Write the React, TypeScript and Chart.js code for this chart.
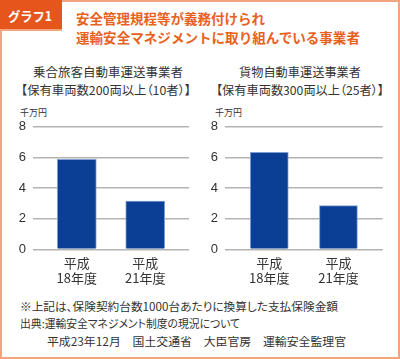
import React, { useEffect, useLayoutEffect, useRef } from "react";
import { Chart, registerables } from "chart.js";

Chart.register(...registerables);

// ---- data ----
const categories: string[][] = [["平成", "18年度"], ["平成", "21年度"]];
const passengerValues = [5.87, 3.15];
const freightValues = [6.33, 2.85];
const yTickValues = [0, 2, 4, 6, 8];

const headerLabel = "グラフ1";
const headerTitle = ["安全管理規程等が義務付けられ", "運輸安全マネジメントに取り組んでいる事業者"];
const passengerTitle = ["乗合旅客自動車運送事業者", "【保有車両数200両以上（10者）】"];
const freightTitle = ["貨物自動車運送事業者", "【保有車両数300両以上（25者）】"];
const unitLabel = "千万円";
const footnotes = [
  "※上記は、保険契約台数1000台あたりに換算した支払保険金額",
  "出典:運輸安全マネジメント制度の現況について",
  "平成23年12月　国土交通省　大臣官房　運輸安全監理官",
];

const ORANGE = "#e8611f";
const FRAME = "#f4a47c";
const BAR = "#0b3f95";
const TEXT = "#333333";
const CJK = '"Noto Sans CJK JP", "Noto Sans", sans-serif';
const NUM = '"Liberation Sans", Arial, sans-serif';

type PanelProps = {
  values: number[];
  left: number;
  top: number;
  width: number;
  height: number;
  yWidth: number;
  padTop: number;
  padRight: number;
  xHeight: number;
  tickPad: number;
  barThickness: number;
};

function Panel(p: PanelProps) {
  const ref = useRef<HTMLCanvasElement | null>(null);
  useEffect(() => {
    if (!ref.current) return;
    const chart = new Chart(ref.current, {
      type: "bar",
      data: {
        datasets: [
          {
            data: p.values.map((v, i) => ({ x: i, y: v })),
            backgroundColor: BAR,
            borderColor: "#7f9fd4",
            borderWidth: 1,
            barThickness: p.barThickness,
          },
        ],
      },
      options: {
        responsive: false,
        animation: false,
        devicePixelRatio: 1,
        layout: { padding: { top: p.padTop, right: p.padRight, left: 0, bottom: 0 } },
        plugins: { legend: { display: false }, tooltip: { enabled: false }, title: { display: false } },
        scales: {
          x: {
            type: "linear",
            min: -0.64,
            max: 1.64,
            offset: false,
            grid: { display: false, drawTicks: false, offset: false },
            border: { display: false },
            afterBuildTicks: (s: any) => {
              s.ticks = categories.map((_, i) => ({ value: i }));
            },
            afterFit: (s: any) => {
              s.height = p.xHeight;
            },
            ticks: {
              padding: 6,
              autoSkip: false,
              maxRotation: 0,
              color: TEXT,
              font: { family: CJK, size: 13, lineHeight: 1.15 },
              callback: (v: any) => categories[Number(v)] ?? "",
            },
          },
          y: {
            min: 0,
            max: 8,
            afterBuildTicks: (s: any) => {
              s.ticks = yTickValues.map((v) => ({ value: v }));
            },
            afterFit: (s: any) => {
              s.width = p.yWidth;
            },
            grid: { color: "#b3b3b3", lineWidth: 1.5, drawTicks: false },
            border: { display: false },
            ticks: {
              padding: p.tickPad,
              color: TEXT,
              font: { family: NUM, size: 13 },
            },
          },
        },
      },
    });
    return () => chart.destroy();
  }, []);
  return (
    <canvas
      ref={ref}
      width={p.width}
      height={p.height}
      style={{ position: "absolute", left: p.left, top: p.top, width: p.width, height: p.height }}
    />
  );
}

// Text line fitted horizontally to a target span [x, x + w]
function FitLine(props: {
  text: string;
  x: number;
  w: number;
  cy: number;
  size: number;
  color?: string;
  bold?: boolean;
  palt?: boolean;
}) {
  const ref = useRef<HTMLDivElement | null>(null);
  useLayoutEffect(() => {
    const el = ref.current;
    if (!el) return;
    const apply = () => {
      el.style.transform = "none";
      const actual = el.getBoundingClientRect().width;
      if (actual > 0) el.style.transform = `scaleX(${props.w / actual})`;
    };
    apply();
    if ((document as any).fonts && (document as any).fonts.ready) {
      (document as any).fonts.ready.then(apply);
    }
  }, []);
  const lh = Math.round(props.size * 1.4);
  return (
    <div
      ref={ref}
      style={{
        position: "absolute",
        left: props.x,
        top: props.cy - lh / 2,
        lineHeight: lh + "px",
        fontSize: props.size,
        fontFamily: CJK,
        color: props.color ?? TEXT,
        fontWeight: props.bold ? 700 : 400,
        whiteSpace: "nowrap",
        transformOrigin: "0 50%",
        fontFeatureSettings: props.palt ? '"palt"' : "normal",
      }}
    >
      {props.text}
    </div>
  );
}

export default function App() {
  useEffect(() => {
    document.body.style.margin = "0";
  }, []);
  return (
    <div style={{ position: "relative", width: 400, height: 359, background: "#fff", overflow: "hidden" }}>
      <div
        style={{
          position: "absolute",
          left: 0,
          top: 0,
          width: 400,
          height: 359,
          boxSizing: "border-box",
          border: `2px solid ${FRAME}`,
        }}
      />
      <div
        style={{
          position: "absolute",
          left: 0,
          top: 0,
          width: 62,
          height: 29,
          background: "#e6561c",
          borderBottom: `2px solid ${FRAME}`,
        }}
      />
      <FitLine text={headerLabel} x={8} w={44} cy={15.5} size={13} color="#ffffff" bold />
      <FitLine text={headerTitle[0]} x={76} w={189} cy={18.5} size={13.4} color={ORANGE} bold />
      <FitLine text={headerTitle[1]} x={76} w={284} cy={37} size={13.4} color={ORANGE} bold />

      <FitLine text={passengerTitle[0]} x={33} w={150} cy={72} size={12.5} />
      <FitLine text={passengerTitle[1]} x={21} w={170} cy={90} size={12.3} palt />
      <FitLine text={freightTitle[0]} x={239} w={122} cy={72} size={12.5} />
      <FitLine text={freightTitle[1]} x={216} w={168} cy={90} size={12.3} palt />

      <FitLine text={unitLabel} x={20} w={27} cy={112} size={9} />
      <FitLine text={unitLabel} x={215} w={27} cy={112} size={9} />

      <Panel
        values={passengerValues}
        left={0}
        top={110}
        width={200}
        height={180}
        yWidth={33}
        padTop={16.7}
        padRight={11}
        xHeight={40.7}
        tickPad={7}
        barThickness={39}
      />
      <Panel
        values={freightValues}
        left={200}
        top={110}
        width={200}
        height={180}
        yWidth={25}
        padTop={16.7}
        padRight={17.3}
        xHeight={40.7}
        tickPad={7}
        barThickness={38}
      />

      <FitLine text={footnotes[0]} x={20} w={318} cy={306} size={11.5} palt />
      <FitLine text={footnotes[1]} x={20} w={220} cy={323} size={11.5} palt />
      <FitLine text={footnotes[2]} x={47} w={299} cy={341} size={11.5} />
    </div>
  );
}
